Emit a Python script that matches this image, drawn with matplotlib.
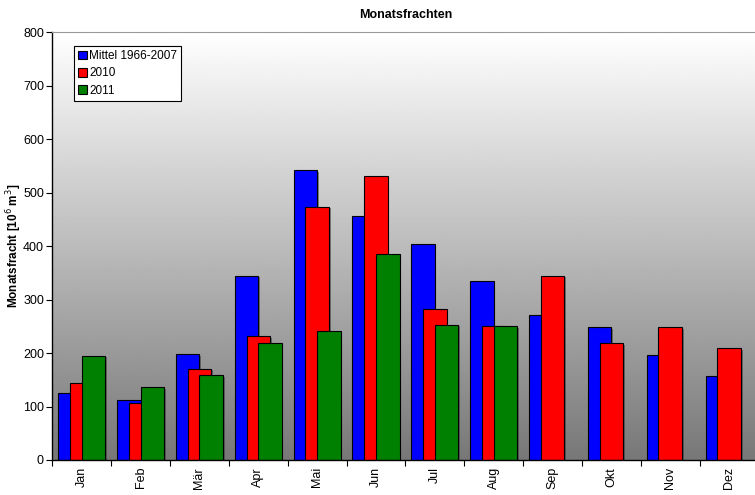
import numpy as np
import matplotlib.pyplot as plt
import matplotlib.patheffects as pe

months = ["Jan", "Feb", "Mär", "Apr", "Mai", "Jun", "Jul", "Aug", "Sep", "Okt", "Nov", "Dez"]
mittel = [125, 112, 198, 345, 542, 456, 404, 335, 271, 248, 196, 158]
y2010 = [144, 106, 171, 232, 474, 531, 282, 250, 345, 219, 248, 209]
y2011 = [195, 136, 159, 219, 241, 386, 253, 250, np.nan, np.nan, np.nan, np.nan]

plt.rcParams["font.family"] = ["Liberation Sans", "DejaVu Sans"]

W, H = 755, 495
fig = plt.figure(figsize=(W / 100, H / 100), dpi=100)
x0, x1 = 52.3, 758.5
y0, y1 = 460, 32.3
ax = fig.add_axes([x0 / W, (H - y0) / H, (x1 - x0) / W, (y0 - y1) / H])

# vertical grey gradient behind the bars
grad = np.linspace(0.47, 1.0, 256).reshape(-1, 1)
ax.imshow(grad, cmap="gray", vmin=0, vmax=1, origin="lower", aspect="auto",
          extent=[0, 12, 0, 800], zorder=0)

x = np.arange(len(months))
shadow = [pe.SimplePatchShadow(offset=(1.2, -1.2), shadow_rgbFace="#333333", alpha=0.5), pe.Normal()]
series = [(mittel, "#0000ff", "Mittel 1966-2007", 0.1),
          (y2010, "#ff0000", "2010", 0.3),
          (y2011, "#008000", "2011", 0.5)]
for vals, color, label, off in series:
    bars = ax.bar(x + off, vals, width=0.4, align="edge", color=color,
                  edgecolor="black", linewidth=0.8, label=label, zorder=2)
    for b in bars:
        b.set_path_effects(shadow)

ax.set_xlim(0, 12)
ax.set_ylim(0, 800)
ax.set_yticks(range(0, 801, 100))
ax.tick_params(axis="y", labelsize=9, length=4, width=0.8, pad=2)
ax.set_xticks(range(0, 13))
ax.set_xticklabels([])
ax.set_xticks(x + 0.5, minor=True)
ax.set_xticklabels(months, minor=True, rotation=90, fontsize=9)
ax.tick_params(axis="x", which="major", length=4, width=0.8)
ax.tick_params(axis="x", which="minor", length=0, pad=5)

for s in ["left", "bottom"]:
    ax.spines[s].set_color("black")
    ax.spines[s].set_linewidth(1.0)
ax.spines["top"].set_color("#999999")
ax.spines["right"].set_visible(False)

ax.set_title("Monatsfrachten", fontsize=9, fontweight="bold", pad=10)
ax.set_ylabel("Monatsfracht [10$^6$ m$^3$]", fontsize=8.5, fontweight="bold", va="center")
ax.yaxis.set_label_coords((14 - x0) / (x1 - x0), 0.5)

leg = ax.legend(loc="upper left", bbox_to_anchor=((74 - x0) / (x1 - x0), (y0 - 46) / (y0 - y1)),
                fontsize=8.5, frameon=True, fancybox=False, framealpha=1,
                edgecolor="black", handlelength=0.75, handleheight=0.75,
                handletextpad=0.2, labelspacing=0.45, borderpad=0.35,
                borderaxespad=0)
leg.get_frame().set_linewidth(0.8)
for h in leg.legend_handles:
    h.set_path_effects([])

fig.savefig("out.png", dpi=100)
